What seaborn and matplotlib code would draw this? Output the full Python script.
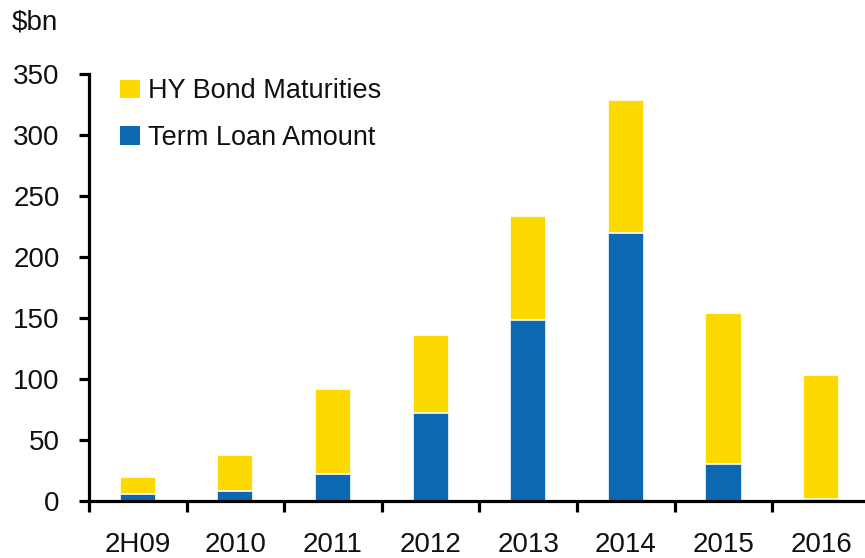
import matplotlib
matplotlib.use("Agg")
import matplotlib.pyplot as plt
import seaborn as sns
import pandas as pd
import numpy as np
from matplotlib.patches import Patch

categories = ["2H09", "2010", "2011", "2012", "2013", "2014", "2015", "2016"]
term_loan = [6, 8, 22, 72, 148, 220, 30, 1.5]
hy_bond = [14, 30, 70, 64, 86, 109, 124, 102]
yticks = [0, 50, 100, 150, 200, 250, 300, 350]

YELLOW = "#FDD900"
BLUE = "#0C68B0"

sns.set_theme(style="white")
plt.rcParams["font.family"] = ["Liberation Sans", "DejaVu Sans"]

df = pd.DataFrame({
    "cat": categories,
    "loan": term_loan,
    "total": [a + b for a, b in zip(term_loan, hy_bond)],
})

fig = plt.figure(figsize=(8.65, 5.58), dpi=100)
ax = fig.add_axes([0.1029, 0.1022, 0.8971, 0.7651])

sns.barplot(data=df, x="cat", y="total", color=YELLOW, width=0.37,
            saturation=1, edgecolor="white", linewidth=1.2, ax=ax)
sns.barplot(data=df, x="cat", y="loan", color=BLUE, width=0.37,
            saturation=1, edgecolor="white", linewidth=1.2, ax=ax)

ax.set_ylim(0, 350)
ax.set_xlim(-0.5, 7.45)
ax.set_yticks(yticks)
ax.set_yticklabels([str(v) for v in yticks])
ax.set_xlabel("")
ax.set_ylabel("")

for s in ["top", "right"]:
    ax.spines[s].set_visible(False)
for s in ["left", "bottom"]:
    ax.spines[s].set_color("black")
    ax.spines[s].set_linewidth(2.3)

FS = 20
ax.tick_params(axis="y", which="major", direction="out", length=7, width=2.3,
               color="black", labelsize=FS, labelcolor="#111111", pad=14, left=True)
ax.tick_params(axis="x", which="major", length=0, labelsize=FS,
               labelcolor="#111111", pad=22)
ax.set_xticks(np.arange(-0.5, 7.0, 1.0), minor=True)
ax.tick_params(axis="x", which="minor", direction="out", length=8, width=2.3,
               color="black", bottom=True)

handles = [Patch(facecolor=YELLOW, edgecolor="none", label="HY Bond Maturities"),
           Patch(facecolor=BLUE, edgecolor="none", label="Term Loan Amount")]
leg = ax.legend(handles=handles, loc="upper left", bbox_to_anchor=(0.026, 1.015),
                frameon=False, fontsize=19.5, handlelength=0.75, handleheight=0.7,
                handletextpad=0.3, labelspacing=0.75, borderaxespad=0.0)
for t in leg.get_texts():
    t.set_color("#111111")

fig.text(0.014, 0.96, "$bn", fontsize=FS, color="#111111", ha="left", va="center")

fig.savefig("out.png", dpi=100)
